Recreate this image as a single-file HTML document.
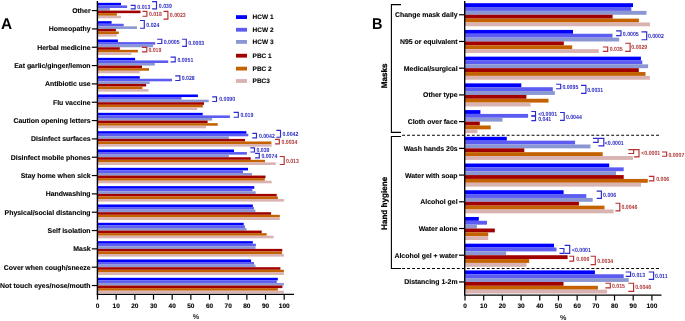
<!DOCTYPE html>
<html><head><meta charset="utf-8"><title>Figure</title>
<style>
html,body{margin:0;padding:0;background:#fff;}
body{width:685px;height:321px;overflow:hidden;}
svg{display:block;will-change:transform;}
text{font-family:"Liberation Sans",sans-serif;text-rendering:geometricPrecision;}
.c{font-size:6.92px;font-weight:bold;fill:#000;stroke:#000;stroke-width:0.1px;}
.p{font-size:5.2px;font-weight:bold;}
.t{font-size:6.5px;font-weight:bold;fill:#000;stroke:#000;stroke-width:0.12px;}
.lg{font-size:6.5px;font-weight:bold;fill:#000;stroke:#000;stroke-width:0.1px;}
.pl{font-size:15.4px;font-weight:bold;fill:#000;}
.pc{font-size:7.2px;font-weight:bold;fill:#222;}
.gl{font-size:8.1px;font-weight:bold;fill:#000;stroke:#000;stroke-width:0.25px;}
</style></head>
<body>
<svg width="685" height="321" viewBox="0 0 685 321">
<rect width="685" height="321" fill="#fff"/>
<rect x="97.5" y="2.85" width="23.5" height="2.58" fill="#0000ff"/>
<rect x="97.5" y="5.43" width="29.6" height="2.58" fill="#5c5cf2"/>
<rect x="97.5" y="8.01" width="12.4" height="2.58" fill="#8b97d2"/>
<rect x="97.5" y="10.59" width="43" height="2.58" fill="#a00000"/>
<rect x="97.5" y="13.17" width="19.4" height="2.58" fill="#c46200"/>
<rect x="97.5" y="15.75" width="23.5" height="2.58" fill="#d9b2b2"/>
<rect x="97.5" y="21.18" width="14.1" height="2.58" fill="#0000ff"/>
<rect x="97.5" y="23.76" width="26.2" height="2.58" fill="#5c5cf2"/>
<rect x="97.5" y="26.34" width="39.5" height="2.58" fill="#8b97d2"/>
<rect x="97.5" y="28.92" width="18.4" height="2.58" fill="#a00000"/>
<rect x="97.5" y="31.5" width="21.3" height="2.58" fill="#c46200"/>
<rect x="97.5" y="34.08" width="19.2" height="2.58" fill="#d9b2b2"/>
<rect x="97.5" y="39.51" width="20.4" height="2.58" fill="#0000ff"/>
<rect x="97.5" y="42.09" width="57.7" height="2.58" fill="#5c5cf2"/>
<rect x="97.5" y="44.67" width="55.6" height="2.58" fill="#8b97d2"/>
<rect x="97.5" y="47.25" width="22.3" height="2.58" fill="#a00000"/>
<rect x="97.5" y="49.83" width="40.4" height="2.58" fill="#c46200"/>
<rect x="97.5" y="52.41" width="34" height="2.58" fill="#d9b2b2"/>
<rect x="97.5" y="57.84" width="37.6" height="2.58" fill="#0000ff"/>
<rect x="97.5" y="60.42" width="70.7" height="2.58" fill="#5c5cf2"/>
<rect x="97.5" y="63" width="57.3" height="2.58" fill="#8b97d2"/>
<rect x="97.5" y="65.58" width="44.5" height="2.58" fill="#a00000"/>
<rect x="97.5" y="68.16" width="51.5" height="2.58" fill="#c46200"/>
<rect x="97.5" y="70.74" width="42.3" height="2.58" fill="#d9b2b2"/>
<rect x="97.5" y="76.17" width="42.3" height="2.58" fill="#0000ff"/>
<rect x="97.5" y="78.75" width="74.5" height="2.58" fill="#5c5cf2"/>
<rect x="97.5" y="81.33" width="52.2" height="2.58" fill="#8b97d2"/>
<rect x="97.5" y="83.91" width="48.6" height="2.58" fill="#a00000"/>
<rect x="97.5" y="86.49" width="44.9" height="2.58" fill="#c46200"/>
<rect x="97.5" y="89.07" width="51.1" height="2.58" fill="#d9b2b2"/>
<rect x="97.5" y="94.5" width="100.4" height="2.58" fill="#0000ff"/>
<rect x="97.5" y="97.08" width="84" height="2.58" fill="#5c5cf2"/>
<rect x="97.5" y="99.66" width="111.2" height="2.58" fill="#8b97d2"/>
<rect x="97.5" y="102.24" width="106.5" height="2.58" fill="#a00000"/>
<rect x="97.5" y="104.82" width="105.3" height="2.58" fill="#c46200"/>
<rect x="97.5" y="107.4" width="99.6" height="2.58" fill="#d9b2b2"/>
<rect x="97.5" y="112.83" width="105.2" height="2.58" fill="#0000ff"/>
<rect x="97.5" y="115.41" width="132.4" height="2.58" fill="#5c5cf2"/>
<rect x="97.5" y="117.99" width="114.7" height="2.58" fill="#8b97d2"/>
<rect x="97.5" y="120.57" width="110.1" height="2.58" fill="#a00000"/>
<rect x="97.5" y="123.15" width="120.2" height="2.58" fill="#c46200"/>
<rect x="97.5" y="125.73" width="108.5" height="2.58" fill="#d9b2b2"/>
<rect x="97.5" y="131.16" width="148.9" height="2.58" fill="#0000ff"/>
<rect x="97.5" y="133.74" width="150.8" height="2.58" fill="#5c5cf2"/>
<rect x="97.5" y="136.32" width="131.4" height="2.58" fill="#8b97d2"/>
<rect x="97.5" y="138.9" width="147.5" height="2.58" fill="#a00000"/>
<rect x="97.5" y="141.48" width="173.9" height="2.58" fill="#c46200"/>
<rect x="97.5" y="144.06" width="174.1" height="2.58" fill="#d9b2b2"/>
<rect x="97.5" y="149.49" width="136.5" height="2.58" fill="#0000ff"/>
<rect x="97.5" y="152.07" width="149.4" height="2.58" fill="#5c5cf2"/>
<rect x="97.5" y="154.65" width="131.4" height="2.58" fill="#8b97d2"/>
<rect x="97.5" y="157.23" width="153.2" height="2.58" fill="#a00000"/>
<rect x="97.5" y="159.81" width="167.5" height="2.58" fill="#c46200"/>
<rect x="97.5" y="162.39" width="178.2" height="2.58" fill="#d9b2b2"/>
<rect x="97.5" y="167.82" width="150.5" height="2.58" fill="#0000ff"/>
<rect x="97.5" y="170.4" width="145.5" height="2.58" fill="#5c5cf2"/>
<rect x="97.5" y="172.98" width="154.5" height="2.58" fill="#8b97d2"/>
<rect x="97.5" y="175.56" width="168" height="2.58" fill="#a00000"/>
<rect x="97.5" y="178.14" width="167.3" height="2.58" fill="#c46200"/>
<rect x="97.5" y="180.72" width="174.2" height="2.58" fill="#d9b2b2"/>
<rect x="97.5" y="186.15" width="156.8" height="2.58" fill="#0000ff"/>
<rect x="97.5" y="188.73" width="154.9" height="2.58" fill="#5c5cf2"/>
<rect x="97.5" y="191.31" width="158.2" height="2.58" fill="#8b97d2"/>
<rect x="97.5" y="193.89" width="179.2" height="2.58" fill="#a00000"/>
<rect x="97.5" y="196.47" width="180.4" height="2.58" fill="#c46200"/>
<rect x="97.5" y="199.05" width="186.4" height="2.58" fill="#d9b2b2"/>
<rect x="97.5" y="204.48" width="155.3" height="2.58" fill="#0000ff"/>
<rect x="97.5" y="207.06" width="156.4" height="2.58" fill="#5c5cf2"/>
<rect x="97.5" y="209.64" width="158" height="2.58" fill="#8b97d2"/>
<rect x="97.5" y="212.22" width="173.6" height="2.58" fill="#a00000"/>
<rect x="97.5" y="214.8" width="182.3" height="2.58" fill="#c46200"/>
<rect x="97.5" y="217.38" width="182.3" height="2.58" fill="#d9b2b2"/>
<rect x="97.5" y="222.81" width="146.2" height="2.58" fill="#0000ff"/>
<rect x="97.5" y="225.39" width="147.4" height="2.58" fill="#5c5cf2"/>
<rect x="97.5" y="227.97" width="149" height="2.58" fill="#8b97d2"/>
<rect x="97.5" y="230.55" width="164.2" height="2.58" fill="#a00000"/>
<rect x="97.5" y="233.13" width="169.2" height="2.58" fill="#c46200"/>
<rect x="97.5" y="235.71" width="176.1" height="2.58" fill="#d9b2b2"/>
<rect x="97.5" y="241.14" width="155.3" height="2.58" fill="#0000ff"/>
<rect x="97.5" y="243.72" width="158.4" height="2.58" fill="#5c5cf2"/>
<rect x="97.5" y="246.3" width="158" height="2.58" fill="#8b97d2"/>
<rect x="97.5" y="248.88" width="184.8" height="2.58" fill="#a00000"/>
<rect x="97.5" y="251.46" width="184.5" height="2.58" fill="#c46200"/>
<rect x="97.5" y="254.04" width="186.4" height="2.58" fill="#d9b2b2"/>
<rect x="97.5" y="259.47" width="153.6" height="2.58" fill="#0000ff"/>
<rect x="97.5" y="262.05" width="156.5" height="2.58" fill="#5c5cf2"/>
<rect x="97.5" y="264.63" width="158" height="2.58" fill="#8b97d2"/>
<rect x="97.5" y="267.21" width="182.9" height="2.58" fill="#a00000"/>
<rect x="97.5" y="269.79" width="186.4" height="2.58" fill="#c46200"/>
<rect x="97.5" y="272.37" width="186.4" height="2.58" fill="#d9b2b2"/>
<rect x="97.5" y="277.8" width="180.3" height="2.58" fill="#0000ff"/>
<rect x="97.5" y="280.38" width="179.3" height="2.58" fill="#5c5cf2"/>
<rect x="97.5" y="282.96" width="186.3" height="2.58" fill="#8b97d2"/>
<rect x="97.5" y="285.54" width="184.9" height="2.58" fill="#a00000"/>
<rect x="97.5" y="288.12" width="180.4" height="2.58" fill="#c46200"/>
<rect x="97.5" y="290.7" width="186.4" height="2.58" fill="#d9b2b2"/>
<path d="M130.7 5.4H135.1V8.8H130.7" fill="none" stroke="#2b2bd0" stroke-width="1.15"/>
<text class="p" fill="#2f2fc4" transform="translate(137.3 9.15) scale(1 1.15)">0.013</text>
<path d="M152.1 1.6H156.5V8.8H152.1" fill="none" stroke="#2b2bd0" stroke-width="1.15"/>
<text class="p" fill="#2f2fc4" transform="translate(158.8 7.85) scale(1 1.15)">0.039</text>
<path d="M142.5 11.4H146.9V16.2H142.5" fill="none" stroke="#b52f2f" stroke-width="1.15"/>
<text class="p" fill="#b13a3a" transform="translate(148.9 16.15) scale(1 1.15)">0.018</text>
<path d="M163.5 11.4H167.9V19.1H163.5" fill="none" stroke="#b52f2f" stroke-width="1.15"/>
<text class="p" fill="#b13a3a" transform="translate(169.8 17.05) scale(1 1.15)">0.0023</text>
<path d="M140 20.5H144.3V28.2H140" fill="none" stroke="#2b2bd0" stroke-width="1.15"/>
<text class="p" fill="#2f2fc4" transform="translate(146.3 27.05) scale(1 1.15)">0.024</text>
<path d="M157.2 39.2H161.8V43.5H157.2" fill="none" stroke="#2b2bd0" stroke-width="1.15"/>
<text class="p" fill="#2f2fc4" transform="translate(163.7 43.55) scale(1 1.15)">0.0005</text>
<path d="M182.1 39.2H186.3V46.4H182.1" fill="none" stroke="#2b2bd0" stroke-width="1.15"/>
<text class="p" fill="#2f2fc4" transform="translate(188.3 44.85) scale(1 1.15)">0.0003</text>
<path d="M141.9 47.3H146.8V51.9H141.9" fill="none" stroke="#b52f2f" stroke-width="1.15"/>
<text class="p" fill="#b13a3a" transform="translate(148.4 51.95) scale(1 1.15)">0.019</text>
<path d="M170.6 57.1H175.2V61.8H170.6" fill="none" stroke="#2b2bd0" stroke-width="1.15"/>
<text class="p" fill="#2f2fc4" transform="translate(177.4 62.05) scale(1 1.15)">0.0051</text>
<path d="M175.2 75.8H179.9V80.5H175.2" fill="none" stroke="#2b2bd0" stroke-width="1.15"/>
<text class="p" fill="#2f2fc4" transform="translate(181.7 80.35) scale(1 1.15)">0.028</text>
<path d="M212.2 96.9H216.5V101.5H212.2" fill="none" stroke="#2b2bd0" stroke-width="1.15"/>
<text class="p" fill="#2f2fc4" transform="translate(219.2 101.25) scale(1 1.15)">0.0090</text>
<path d="M233.6 112.4H238.3V117.2H233.6" fill="none" stroke="#2b2bd0" stroke-width="1.15"/>
<text class="p" fill="#2f2fc4" transform="translate(240.4 117.05) scale(1 1.15)">0.019</text>
<path d="M252.3 133.4H256.5V137.9H252.3" fill="none" stroke="#2b2bd0" stroke-width="1.15"/>
<text class="p" fill="#2f2fc4" transform="translate(258.9 138.05) scale(1 1.15)">0.0042</text>
<path d="M276.3 130.3H280.5V137.2H276.3" fill="none" stroke="#2b2bd0" stroke-width="1.15"/>
<text class="p" fill="#2f2fc4" transform="translate(282.5 135.95) scale(1 1.15)">0.0042</text>
<path d="M275 139.3H279.3V143.8H275" fill="none" stroke="#b52f2f" stroke-width="1.15"/>
<text class="p" fill="#b13a3a" transform="translate(281.5 144.05) scale(1 1.15)">0.0034</text>
<path d="M250.3 147.8H254.5V152H250.3" fill="none" stroke="#2b2bd0" stroke-width="1.15"/>
<text class="p" fill="#2f2fc4" transform="translate(256.5 152.25) scale(1 1.15)">0.039</text>
<path d="M255.1 153.4H259.3V157.9H255.1" fill="none" stroke="#2b2bd0" stroke-width="1.15"/>
<text class="p" fill="#2f2fc4" transform="translate(261.4 157.95) scale(1 1.15)">0.0074</text>
<path d="M279.7 156.5H284.2V164.5H279.7" fill="none" stroke="#b52f2f" stroke-width="1.15"/>
<text class="p" fill="#b13a3a" transform="translate(285.9 162.55) scale(1 1.15)">0.013</text>
<text x="90.6" y="13.08" class="c" text-anchor="end">Other</text>
<line x1="91.8" y1="10.59" x2="97.5" y2="10.59" stroke="#000" stroke-width="1.2"/>
<text x="90.6" y="31.41" class="c" text-anchor="end">Homeopathy</text>
<line x1="91.8" y1="28.92" x2="97.5" y2="28.92" stroke="#000" stroke-width="1.2"/>
<text x="90.6" y="49.74" class="c" text-anchor="end">Herbal medicine</text>
<line x1="91.8" y1="47.25" x2="97.5" y2="47.25" stroke="#000" stroke-width="1.2"/>
<text x="90.6" y="68.07" class="c" text-anchor="end">Eat garlic/ginger/lemon</text>
<line x1="91.8" y1="65.58" x2="97.5" y2="65.58" stroke="#000" stroke-width="1.2"/>
<text x="90.6" y="86.4" class="c" text-anchor="end">Antibiotic use</text>
<line x1="91.8" y1="83.91" x2="97.5" y2="83.91" stroke="#000" stroke-width="1.2"/>
<text x="90.6" y="104.73" class="c" text-anchor="end">Flu vaccine</text>
<line x1="91.8" y1="102.24" x2="97.5" y2="102.24" stroke="#000" stroke-width="1.2"/>
<text x="90.6" y="123.06" class="c" text-anchor="end">Caution opening letters</text>
<line x1="91.8" y1="120.57" x2="97.5" y2="120.57" stroke="#000" stroke-width="1.2"/>
<text x="90.6" y="141.39" class="c" text-anchor="end">Disinfect surfaces</text>
<line x1="91.8" y1="138.9" x2="97.5" y2="138.9" stroke="#000" stroke-width="1.2"/>
<text x="90.6" y="159.72" class="c" text-anchor="end">Disinfect mobile phones</text>
<line x1="91.8" y1="157.23" x2="97.5" y2="157.23" stroke="#000" stroke-width="1.2"/>
<text x="90.6" y="178.05" class="c" text-anchor="end">Stay home when sick</text>
<line x1="91.8" y1="175.56" x2="97.5" y2="175.56" stroke="#000" stroke-width="1.2"/>
<text x="90.6" y="196.38" class="c" text-anchor="end">Handwashing</text>
<line x1="91.8" y1="193.89" x2="97.5" y2="193.89" stroke="#000" stroke-width="1.2"/>
<text x="90.6" y="214.71" class="c" text-anchor="end">Physical/social distancing</text>
<line x1="91.8" y1="212.22" x2="97.5" y2="212.22" stroke="#000" stroke-width="1.2"/>
<text x="90.6" y="233.04" class="c" text-anchor="end">Self isolation</text>
<line x1="91.8" y1="230.55" x2="97.5" y2="230.55" stroke="#000" stroke-width="1.2"/>
<text x="90.6" y="251.37" class="c" text-anchor="end">Mask</text>
<line x1="91.8" y1="248.88" x2="97.5" y2="248.88" stroke="#000" stroke-width="1.2"/>
<text x="90.6" y="269.7" class="c" text-anchor="end">Cover when cough/sneeze</text>
<line x1="91.8" y1="267.21" x2="97.5" y2="267.21" stroke="#000" stroke-width="1.2"/>
<text x="90.6" y="288.03" class="c" text-anchor="end">Not touch eyes/nose/mouth</text>
<line x1="91.8" y1="285.54" x2="97.5" y2="285.54" stroke="#000" stroke-width="1.2"/>
<line x1="97.4" y1="0.9" x2="97.4" y2="295" stroke="#000" stroke-width="1.4"/>
<line x1="96.85" y1="294.4" x2="294" y2="294.4" stroke="#000" stroke-width="1.3"/>
<line x1="97.5" y1="294.4" x2="97.5" y2="299.7" stroke="#000" stroke-width="1.2"/>
<text x="97.5" y="307.9" class="t" text-anchor="middle">0</text>
<line x1="116.17" y1="294.4" x2="116.17" y2="299.7" stroke="#000" stroke-width="1.2"/>
<text x="116.17" y="307.9" class="t" text-anchor="middle">10</text>
<line x1="134.84" y1="294.4" x2="134.84" y2="299.7" stroke="#000" stroke-width="1.2"/>
<text x="134.84" y="307.9" class="t" text-anchor="middle">20</text>
<line x1="153.51" y1="294.4" x2="153.51" y2="299.7" stroke="#000" stroke-width="1.2"/>
<text x="153.51" y="307.9" class="t" text-anchor="middle">30</text>
<line x1="172.18" y1="294.4" x2="172.18" y2="299.7" stroke="#000" stroke-width="1.2"/>
<text x="172.18" y="307.9" class="t" text-anchor="middle">40</text>
<line x1="190.85" y1="294.4" x2="190.85" y2="299.7" stroke="#000" stroke-width="1.2"/>
<text x="190.85" y="307.9" class="t" text-anchor="middle">50</text>
<line x1="209.52" y1="294.4" x2="209.52" y2="299.7" stroke="#000" stroke-width="1.2"/>
<text x="209.52" y="307.9" class="t" text-anchor="middle">60</text>
<line x1="228.19" y1="294.4" x2="228.19" y2="299.7" stroke="#000" stroke-width="1.2"/>
<text x="228.19" y="307.9" class="t" text-anchor="middle">70</text>
<line x1="246.86" y1="294.4" x2="246.86" y2="299.7" stroke="#000" stroke-width="1.2"/>
<text x="246.86" y="307.9" class="t" text-anchor="middle">80</text>
<line x1="265.53" y1="294.4" x2="265.53" y2="299.7" stroke="#000" stroke-width="1.2"/>
<text x="265.53" y="307.9" class="t" text-anchor="middle">90</text>
<line x1="284.2" y1="294.4" x2="284.2" y2="299.7" stroke="#000" stroke-width="1.2"/>
<text x="284.2" y="307.9" class="t" text-anchor="middle">100</text>
<text x="196" y="319.3" class="pc" text-anchor="middle">%</text>
<text class="pl" transform="translate(0.9 29.2) scale(1 1.01)">A</text>
<rect x="236" y="15.2" width="11" height="3.8" fill="#0000ff"/>
<text x="252.6" y="19.44" class="lg">HCW 1</text>
<rect x="236" y="27.85" width="11" height="3.8" fill="#5c5cf2"/>
<text x="252.6" y="32.09" class="lg">HCW 2</text>
<rect x="236" y="40" width="11" height="3.8" fill="#8b97d2"/>
<text x="252.6" y="44.24" class="lg">HCW 3</text>
<rect x="236" y="53.8" width="11" height="3.8" fill="#a00000"/>
<text x="252.6" y="58.04" class="lg">PBC 1</text>
<rect x="236" y="66.7" width="11" height="3.8" fill="#c46200"/>
<text x="252.6" y="70.94" class="lg">PBC 2</text>
<rect x="236" y="79.1" width="11" height="3.8" fill="#d9b2b2"/>
<text x="252.6" y="83.34" class="lg">PBC3</text>
<rect x="465" y="3.2" width="168" height="3.85" fill="#0000ff"/>
<rect x="465" y="7.05" width="166.3" height="3.85" fill="#5c5cf2"/>
<rect x="465" y="10.9" width="181.5" height="3.85" fill="#8b97d2"/>
<rect x="465" y="14.75" width="147.6" height="3.85" fill="#a00000"/>
<rect x="465" y="18.6" width="173.9" height="3.85" fill="#c46200"/>
<rect x="465" y="22.45" width="185" height="3.85" fill="#d9b2b2"/>
<rect x="465" y="29.92" width="108" height="3.85" fill="#0000ff"/>
<rect x="465" y="33.77" width="147.5" height="3.85" fill="#5c5cf2"/>
<rect x="465" y="37.62" width="154.2" height="3.85" fill="#8b97d2"/>
<rect x="465" y="41.47" width="98.8" height="3.85" fill="#a00000"/>
<rect x="465" y="45.32" width="107.2" height="3.85" fill="#c46200"/>
<rect x="465" y="49.17" width="133.8" height="3.85" fill="#d9b2b2"/>
<rect x="465" y="56.64" width="175.9" height="3.85" fill="#0000ff"/>
<rect x="465" y="60.49" width="177.3" height="3.85" fill="#5c5cf2"/>
<rect x="465" y="64.34" width="183.1" height="3.85" fill="#8b97d2"/>
<rect x="465" y="68.19" width="173.8" height="3.85" fill="#a00000"/>
<rect x="465" y="72.04" width="180.5" height="3.85" fill="#c46200"/>
<rect x="465" y="75.89" width="184.9" height="3.85" fill="#d9b2b2"/>
<rect x="465" y="83.36" width="56.3" height="3.85" fill="#0000ff"/>
<rect x="465" y="87.21" width="87.8" height="3.85" fill="#5c5cf2"/>
<rect x="465" y="91.06" width="89.8" height="3.85" fill="#8b97d2"/>
<rect x="465" y="94.91" width="61.4" height="3.85" fill="#a00000"/>
<rect x="465" y="98.76" width="83.5" height="3.85" fill="#c46200"/>
<rect x="465" y="102.61" width="65.6" height="3.85" fill="#d9b2b2"/>
<rect x="465" y="110.08" width="15.4" height="3.85" fill="#0000ff"/>
<rect x="465" y="113.93" width="63.1" height="3.85" fill="#5c5cf2"/>
<rect x="465" y="117.78" width="37.5" height="3.85" fill="#8b97d2"/>
<rect x="465" y="121.63" width="14.8" height="3.85" fill="#a00000"/>
<rect x="465" y="125.48" width="25.7" height="3.85" fill="#c46200"/>
<rect x="465" y="129.33" width="12.4" height="3.85" fill="#d9b2b2"/>
<rect x="465" y="136.8" width="41.8" height="3.85" fill="#0000ff"/>
<rect x="465" y="140.65" width="110.1" height="3.85" fill="#5c5cf2"/>
<rect x="465" y="144.5" width="125.4" height="3.85" fill="#8b97d2"/>
<rect x="465" y="148.35" width="59.3" height="3.85" fill="#a00000"/>
<rect x="465" y="152.2" width="137.7" height="3.85" fill="#c46200"/>
<rect x="465" y="156.05" width="167.9" height="3.85" fill="#d9b2b2"/>
<rect x="465" y="163.52" width="144.2" height="3.85" fill="#0000ff"/>
<rect x="465" y="167.37" width="158.7" height="3.85" fill="#5c5cf2"/>
<rect x="465" y="171.22" width="151" height="3.85" fill="#8b97d2"/>
<rect x="465" y="175.07" width="158.7" height="3.85" fill="#a00000"/>
<rect x="465" y="178.92" width="182.8" height="3.85" fill="#c46200"/>
<rect x="465" y="182.77" width="176" height="3.85" fill="#d9b2b2"/>
<rect x="465" y="190.24" width="98.6" height="3.85" fill="#0000ff"/>
<rect x="465" y="194.09" width="121.3" height="3.85" fill="#5c5cf2"/>
<rect x="465" y="197.94" width="127.7" height="3.85" fill="#8b97d2"/>
<rect x="465" y="201.79" width="113.9" height="3.85" fill="#a00000"/>
<rect x="465" y="205.64" width="139.5" height="3.85" fill="#c46200"/>
<rect x="465" y="209.49" width="148.6" height="3.85" fill="#d9b2b2"/>
<rect x="465" y="216.96" width="13.8" height="3.85" fill="#0000ff"/>
<rect x="465" y="220.81" width="22" height="3.85" fill="#5c5cf2"/>
<rect x="465" y="224.66" width="11.9" height="3.85" fill="#8b97d2"/>
<rect x="465" y="228.51" width="29.8" height="3.85" fill="#a00000"/>
<rect x="465" y="232.36" width="23.2" height="3.85" fill="#c46200"/>
<rect x="465" y="236.21" width="23.2" height="3.85" fill="#d9b2b2"/>
<rect x="465" y="243.68" width="89" height="3.85" fill="#0000ff"/>
<rect x="465" y="247.53" width="91.5" height="3.85" fill="#5c5cf2"/>
<rect x="465" y="251.38" width="41.1" height="3.85" fill="#8b97d2"/>
<rect x="465" y="255.23" width="102.6" height="3.85" fill="#a00000"/>
<rect x="465" y="259.08" width="64.2" height="3.85" fill="#c46200"/>
<rect x="465" y="262.93" width="61.6" height="3.85" fill="#d9b2b2"/>
<rect x="465" y="270.4" width="129.9" height="3.85" fill="#0000ff"/>
<rect x="465" y="274.25" width="158.7" height="3.85" fill="#5c5cf2"/>
<rect x="465" y="278.1" width="163.7" height="3.85" fill="#8b97d2"/>
<rect x="465" y="281.95" width="98.5" height="3.85" fill="#a00000"/>
<rect x="465" y="285.8" width="132.9" height="3.85" fill="#c46200"/>
<rect x="465" y="289.65" width="142.1" height="3.85" fill="#d9b2b2"/>
<path d="M616.1 30.9H621V35.6H616.1" fill="none" stroke="#2b2bd0" stroke-width="1.15"/>
<text class="p" fill="#2f2fc4" transform="translate(622.8 35.55) scale(1 1.15)">0.0005</text>
<path d="M641.5 31.8H646.7V39.7H641.5" fill="none" stroke="#2b2bd0" stroke-width="1.15"/>
<text class="p" fill="#2f2fc4" transform="translate(647.9 38.15) scale(1 1.15)">0.0002</text>
<path d="M602.9 47H607.7V51.4H602.9" fill="none" stroke="#b52f2f" stroke-width="1.15"/>
<text class="p" fill="#b13a3a" transform="translate(609.7 51.25) scale(1 1.15)">0.035</text>
<path d="M625.2 43.2H630.1V51.4H625.2" fill="none" stroke="#b52f2f" stroke-width="1.15"/>
<text class="p" fill="#b13a3a" transform="translate(631.3 49.15) scale(1 1.15)">0.0029</text>
<path d="M556.1 84.2H560.7V88.7H556.1" fill="none" stroke="#2b2bd0" stroke-width="1.15"/>
<text class="p" fill="#2f2fc4" transform="translate(562.4 88.85) scale(1 1.15)">0.0095</text>
<path d="M581 85.3H585.9V93.3H581" fill="none" stroke="#2b2bd0" stroke-width="1.15"/>
<text class="p" fill="#2f2fc4" transform="translate(587.2 91.65) scale(1 1.15)">0.0031</text>
<path d="M531.3 111.5H535.5V115.7H531.3" fill="none" stroke="#2b2bd0" stroke-width="1.15"/>
<text class="p" fill="#2f2fc4" transform="translate(538.2 115.75) scale(1 1.15)">&lt;0.0001</text>
<path d="M531.3 116.1H535.5V120.6H531.3" fill="none" stroke="#2b2bd0" stroke-width="1.15"/>
<text class="p" fill="#2f2fc4" transform="translate(538.2 120.65) scale(1 1.15)">0.041</text>
<path d="M560 112.5H564.2V120.3H560" fill="none" stroke="#2b2bd0" stroke-width="1.15"/>
<text class="p" fill="#2f2fc4" transform="translate(565.9 118.55) scale(1 1.15)">0.0044</text>
<path d="M593 138.4H598.1V142.4H593" fill="none" stroke="#2b2bd0" stroke-width="1.15"/>
<path d="M598.4 138.4H603.8V145.8H598.4" fill="none" stroke="#2b2bd0" stroke-width="1.15"/>
<text class="p" fill="#2f2fc4" transform="translate(604.8 144.55) scale(1 1.15)">&lt;0.0001</text>
<path d="M628.3 149.6H633.6V153.5H628.3" fill="none" stroke="#b52f2f" stroke-width="1.15"/>
<path d="M634 149.6H639V156.8H634" fill="none" stroke="#b52f2f" stroke-width="1.15"/>
<text class="p" fill="#b13a3a" transform="translate(641.3 155.35) scale(1 1.15)">&lt;0.0001</text>
<path d="M662 152H666.6V156.2H662" fill="none" stroke="#b52f2f" stroke-width="1.15"/>
<text class="p" fill="#b13a3a" transform="translate(668.4 156.85) scale(1 1.15)">0.0007</text>
<path d="M648.9 176.4H653.8V180.8H648.9" fill="none" stroke="#b52f2f" stroke-width="1.15"/>
<text class="p" fill="#b13a3a" transform="translate(656.2 180.55) scale(1 1.15)">0.006</text>
<path d="M596.7 191.1H601.4V198.4H596.7" fill="none" stroke="#2b2bd0" stroke-width="1.15"/>
<text class="p" fill="#2f2fc4" transform="translate(603.1 197.15) scale(1 1.15)">0.006</text>
<path d="M615.4 203.2H619.8V210.8H615.4" fill="none" stroke="#b52f2f" stroke-width="1.15"/>
<text class="p" fill="#b13a3a" transform="translate(621.5 209.05) scale(1 1.15)">0.0046</text>
<path d="M559.5 248.5H563.9V253.3H559.5" fill="none" stroke="#2b2bd0" stroke-width="1.15"/>
<path d="M564.6 245.3H569.7V253.3H564.6" fill="none" stroke="#2b2bd0" stroke-width="1.15"/>
<text class="p" fill="#2f2fc4" transform="translate(571.9 251.55) scale(1 1.15)">&lt;0.0001</text>
<path d="M569.3 256.2H573.6V261.1H569.3" fill="none" stroke="#b52f2f" stroke-width="1.15"/>
<text class="p" fill="#b13a3a" transform="translate(576.3 261.35) scale(1 1.15)">0.006</text>
<path d="M590.6 256.2H595.3V264.6H590.6" fill="none" stroke="#b52f2f" stroke-width="1.15"/>
<text class="p" fill="#b13a3a" transform="translate(597.3 262.75) scale(1 1.15)">0.0034</text>
<path d="M625.7 272H630.6V276.3H625.7" fill="none" stroke="#2b2bd0" stroke-width="1.15"/>
<text class="p" fill="#2f2fc4" transform="translate(632.1 276.55) scale(1 1.15)">0.013</text>
<path d="M648.7 272H653.6V279.3H648.7" fill="none" stroke="#2b2bd0" stroke-width="1.15"/>
<text class="p" fill="#2f2fc4" transform="translate(654.9 277.65) scale(1 1.15)">0.011</text>
<path d="M605.3 283.2H610.3V287.8H605.3" fill="none" stroke="#b52f2f" stroke-width="1.15"/>
<text class="p" fill="#b13a3a" transform="translate(612 287.65) scale(1 1.15)">0.015</text>
<path d="M628.3 283.2H633.6V291.3H628.3" fill="none" stroke="#b52f2f" stroke-width="1.15"/>
<text class="p" fill="#b13a3a" transform="translate(635.2 289.45) scale(1 1.15)">0.0046</text>
<text x="457.6" y="17.24" class="c" text-anchor="end">Change mask daily</text>
<line x1="459" y1="14.75" x2="465" y2="14.75" stroke="#000" stroke-width="1.2"/>
<text x="457.6" y="43.96" class="c" text-anchor="end">N95 or equivalent</text>
<line x1="459" y1="41.47" x2="465" y2="41.47" stroke="#000" stroke-width="1.2"/>
<text x="457.6" y="70.68" class="c" text-anchor="end">Medical/surgical</text>
<line x1="459" y1="68.19" x2="465" y2="68.19" stroke="#000" stroke-width="1.2"/>
<text x="457.6" y="97.4" class="c" text-anchor="end">Other type</text>
<line x1="459" y1="94.91" x2="465" y2="94.91" stroke="#000" stroke-width="1.2"/>
<text x="457.6" y="124.12" class="c" text-anchor="end">Cloth over face</text>
<line x1="459" y1="121.63" x2="465" y2="121.63" stroke="#000" stroke-width="1.2"/>
<text x="457.6" y="150.84" class="c" text-anchor="end">Wash hands 20s</text>
<line x1="459" y1="148.35" x2="465" y2="148.35" stroke="#000" stroke-width="1.2"/>
<text x="457.6" y="177.56" class="c" text-anchor="end">Water with soap</text>
<line x1="459" y1="175.07" x2="465" y2="175.07" stroke="#000" stroke-width="1.2"/>
<text x="457.6" y="204.28" class="c" text-anchor="end">Alcohol gel</text>
<line x1="459" y1="201.79" x2="465" y2="201.79" stroke="#000" stroke-width="1.2"/>
<text x="457.6" y="231" class="c" text-anchor="end">Water alone</text>
<line x1="459" y1="228.51" x2="465" y2="228.51" stroke="#000" stroke-width="1.2"/>
<text x="457.6" y="257.72" class="c" text-anchor="end">Alcohol gel + water</text>
<line x1="459" y1="255.23" x2="465" y2="255.23" stroke="#000" stroke-width="1.2"/>
<text x="457.6" y="284.44" class="c" text-anchor="end">Distancing 1-2m</text>
<line x1="459" y1="281.95" x2="465" y2="281.95" stroke="#000" stroke-width="1.2"/>
<line x1="464.7" y1="0.9" x2="464.7" y2="295.5" stroke="#000" stroke-width="1.4"/>
<line x1="464.35" y1="295.2" x2="661.5" y2="295.2" stroke="#000" stroke-width="1.3"/>
<line x1="465" y1="295.2" x2="465" y2="300.5" stroke="#000" stroke-width="1.2"/>
<text x="465" y="308.4" class="t" text-anchor="middle">0</text>
<line x1="483.69" y1="295.2" x2="483.69" y2="300.5" stroke="#000" stroke-width="1.2"/>
<text x="483.69" y="308.4" class="t" text-anchor="middle">10</text>
<line x1="502.38" y1="295.2" x2="502.38" y2="300.5" stroke="#000" stroke-width="1.2"/>
<text x="502.38" y="308.4" class="t" text-anchor="middle">20</text>
<line x1="521.07" y1="295.2" x2="521.07" y2="300.5" stroke="#000" stroke-width="1.2"/>
<text x="521.07" y="308.4" class="t" text-anchor="middle">30</text>
<line x1="539.76" y1="295.2" x2="539.76" y2="300.5" stroke="#000" stroke-width="1.2"/>
<text x="539.76" y="308.4" class="t" text-anchor="middle">40</text>
<line x1="558.45" y1="295.2" x2="558.45" y2="300.5" stroke="#000" stroke-width="1.2"/>
<text x="558.45" y="308.4" class="t" text-anchor="middle">50</text>
<line x1="577.14" y1="295.2" x2="577.14" y2="300.5" stroke="#000" stroke-width="1.2"/>
<text x="577.14" y="308.4" class="t" text-anchor="middle">60</text>
<line x1="595.83" y1="295.2" x2="595.83" y2="300.5" stroke="#000" stroke-width="1.2"/>
<text x="595.83" y="308.4" class="t" text-anchor="middle">70</text>
<line x1="614.52" y1="295.2" x2="614.52" y2="300.5" stroke="#000" stroke-width="1.2"/>
<text x="614.52" y="308.4" class="t" text-anchor="middle">80</text>
<line x1="633.21" y1="295.2" x2="633.21" y2="300.5" stroke="#000" stroke-width="1.2"/>
<text x="633.21" y="308.4" class="t" text-anchor="middle">90</text>
<line x1="651.9" y1="295.2" x2="651.9" y2="300.5" stroke="#000" stroke-width="1.2"/>
<text x="651.9" y="308.4" class="t" text-anchor="middle">100</text>
<text x="563.2" y="319.7" class="pc" text-anchor="middle">%</text>
<text class="pl" style="font-size:14.5px" transform="translate(372.1 29.3) scale(1 1.07)">B</text>
<line x1="402.1" y1="135.25" x2="660" y2="135.25" stroke="#000" stroke-width="1.2" stroke-dasharray="2.9 2.08"/>
<line x1="402.1" y1="268.5" x2="660" y2="268.5" stroke="#000" stroke-width="1.2" stroke-dasharray="2.9 2.08"/>
<path d="M401 4.6H391.4V132.4H401" fill="none" stroke="#000" stroke-width="1.1"/>
<path d="M401 136.5H391.4V268.5H401" fill="none" stroke="#000" stroke-width="1.1"/>
<text class="gl" text-anchor="middle" transform="translate(387.3 75.8) rotate(-90)">Masks</text>
<text class="gl" text-anchor="middle" transform="translate(387.3 203.4) rotate(-90)">Hand hygiene</text>
</svg>
</body></html>
